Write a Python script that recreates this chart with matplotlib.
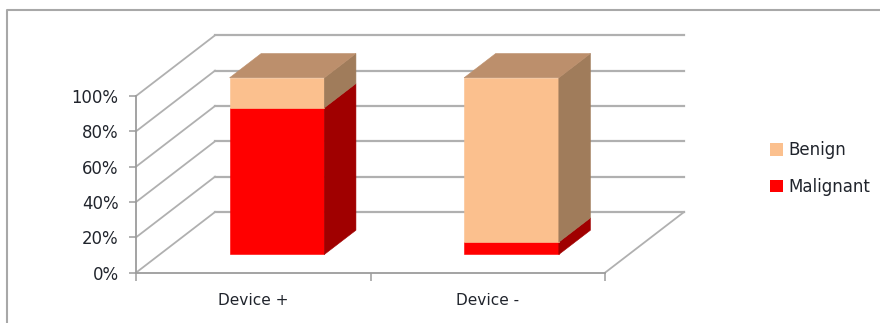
import matplotlib
matplotlib.use("Agg")
import matplotlib.pyplot as plt
from matplotlib.lines import Line2D
from matplotlib.patches import Patch, Polygon
from matplotlib.ticker import PercentFormatter

categories = ["Device +", "Device -"]
malignant = [83, 7]
benign = [17, 93]
value_ticks = [0, 20, 40, 60, 80, 100]

RED_FRONT, RED_SIDE = "#ff0000", "#a00000"
TAN_FRONT, TAN_SIDE, TAN_TOP = "#fbc08e", "#a07c5b", "#bc8f6c"
GRID = "#b0b0b0"
AXIS = "#9c9c9c"
TEXT = "#20242c"

# Oblique projection: a unit of depth shifts a point right and upward
DEPTH_X = 0.337
DEPTH_Y = 34.35
BAR_HALF = 0.202
BAR_NEAR, BAR_FAR = 0.3, 0.7

plt.rcParams["font.family"] = ["DejaVu Sans"]
W, H = 880, 323
fig = plt.figure(figsize=(W / 100, H / 100), dpi=100)
ax = fig.add_axes([136 / W, (H - 272.7) / H, 469 / W, 176.7 / H])
ax.set_xlim(0, len(categories))
ax.set_ylim(0, 100)


def project(x, y, d):
    return x + d * DEPTH_X, y + d * DEPTH_Y


def box(center, low, high, front, side, top=None):
    x0, x1 = center - BAR_HALF, center + BAR_HALF
    faces = [
        ([(x0, low, BAR_NEAR), (x1, low, BAR_NEAR), (x1, high, BAR_NEAR), (x0, high, BAR_NEAR)], front),
        ([(x1, low, BAR_NEAR), (x1, low, BAR_FAR), (x1, high, BAR_FAR), (x1, high, BAR_NEAR)], side),
    ]
    if top is not None:
        faces.append(([(x0, high, BAR_NEAR), (x1, high, BAR_NEAR), (x1, high, BAR_FAR), (x0, high, BAR_FAR)], top))
    for corners, colour in faces:
        ax.add_patch(Polygon([project(*c) for c in corners], closed=True, facecolor=colour,
                             edgecolor=colour, linewidth=0.4, clip_on=False, zorder=4))


# Back wall and side wall gridlines, plus the floor outline
n = len(categories)
for v in value_ticks:
    bx, by = project(0, v, 1)
    ex, ey = project(n, v, 1)
    ax.plot([bx, ex], [by, ey], color=GRID, lw=1.6, clip_on=False, zorder=1)
    ax.plot([0, bx], [v, by], color=GRID, lw=1.3, clip_on=False, zorder=1)
fx, fy = project(n, 0, 1)
ax.plot([n, fx], [0, fy], color=GRID, lw=1.3, clip_on=False, zorder=1)

for i, (m, b) in enumerate(zip(malignant, benign)):
    c = i + 0.5
    box(c, 0, m, RED_FRONT, RED_SIDE)
    box(c, m, m + b, TAN_FRONT, TAN_SIDE, TAN_TOP)

for name in ("top", "right"):
    ax.spines[name].set_visible(False)
for name in ("left", "bottom"):
    ax.spines[name].set_color(AXIS)
    ax.spines[name].set_linewidth(1.3)

ax.set_yticks(value_ticks)
ax.yaxis.set_major_formatter(PercentFormatter(100, decimals=0))
ax.tick_params(axis="y", length=5, width=1.1, color=AXIS, labelsize=11.9, labelcolor=TEXT, pad=7.5)
ax.set_xticks(range(n + 1))
ax.set_xticklabels([])
ax.set_xticks([i + 0.5 for i in range(n)], categories, minor=True)
ax.tick_params(axis="x", which="major", length=5.5, width=1.1, color=AXIS)
ax.tick_params(axis="x", which="minor", length=0, labelsize=11.1, labelcolor=TEXT, pad=14.5)

ax.legend(handles=[Patch(facecolor=TAN_FRONT, label="Benign"), Patch(facecolor=RED_FRONT, label="Malignant")],
          loc="center left", bbox_to_anchor=(770 / W, (H - 168.5) / H), bbox_transform=fig.transFigure,
          frameon=False, fontsize=12, handlelength=0.8, handleheight=0.8, handletextpad=0.3,
          labelspacing=1.1, labelcolor=TEXT, borderpad=0, borderaxespad=0)

# Outer chart frame, open at the right and bottom edges
fig.add_artist(Line2D([6.5 / W, 6.5 / W, 1], [0, (H - 10) / H, (H - 10) / H], color="#a8a8a8", lw=1.5))

fig.savefig("out.png", dpi=100)
